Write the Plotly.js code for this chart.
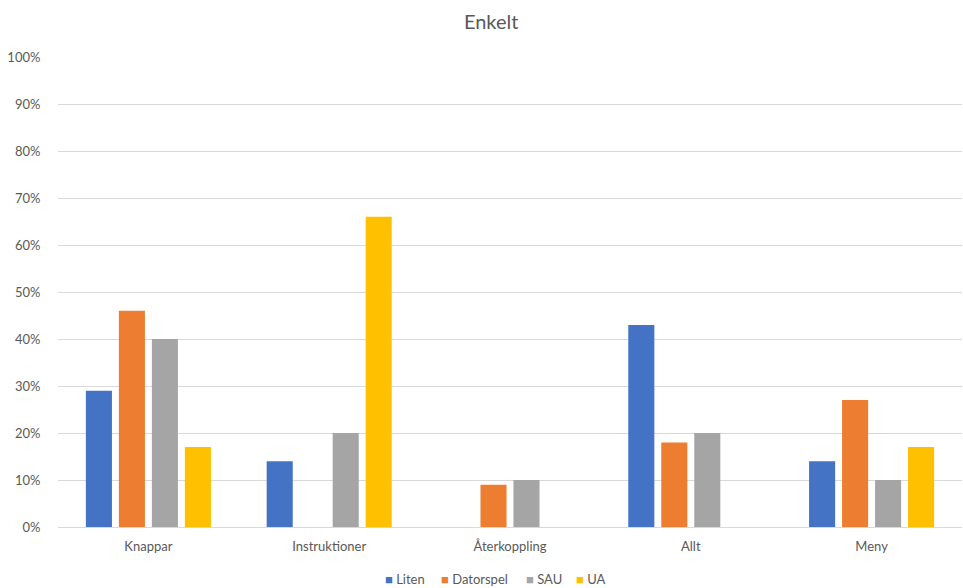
<!DOCTYPE html>
<html>
<head>
<meta charset="utf-8">
<script src="https://cdn.plot.ly/plotly-3.0.1.min.js"></script>
<style>html,body{margin:0;padding:0;background:#fff;}#chart{width:963px;height:588px;}</style>
</head>
<body>
<div id="chart"></div>
<script>
const categories = ["Knappar", "Instruktioner", "Återkoppling", "Allt", "Meny"];
const seriesNames = ["Liten", "Datorspel", "SAU", "UA"];
const liten = [0.29, 0.14, 0, 0.43, 0.14];
const datorspel = [0.46, 0, 0.09, 0.18, 0.27];
const sau = [0.40, 0.20, 0.10, 0.20, 0.10];
const ua = [0.17, 0.66, 0, 0, 0.17];
const colors = ["#4472c4", "#ed7d31", "#a5a5a5", "#ffc000"];
const tickVals = [0, 0.1, 0.2, 0.3, 0.4, 0.5, 0.6, 0.7, 0.8, 0.9, 1.0];

const allSeries = [liten, datorspel, sau, ua];
const traces = allSeries.map((vals, i) => ({
  type: "bar",
  name: seriesNames[i],
  x: categories,
  y: vals,
  marker: {color: colors[i]},
  hoverinfo: "none",
  showlegend: false
}));

const font = "Lato, 'Open Sans', sans-serif";
// custom legend (layout positions in paper coords)
const legendX = [0.361, 0.423, 0.517, 0.572];
const annotations = seriesNames.map((n, i) => ({
  xref: "paper", yref: "paper",
  x: legendX[i], y: -0.111, xanchor: "left", yanchor: "middle",
  showarrow: false, borderpad: 0,
  text: '<span style="color:' + colors[i] + '">■</span> ' + n,
  font: {family: font, size: 13, color: "#595959"}
}));

const layout = {
  width: 963,
  height: 588,
  paper_bgcolor: "#fff",
  plot_bgcolor: "#fff",
  margin: {l: 58, r: 1, t: 57, b: 61},
  title: {text: "Enkelt", font: {family: font, size: 20, color: "#595959"}, x: 0.51, xanchor: "center", y: 0.962, yanchor: "middle"},
  barmode: "group",
  bargap: 0.27,
  bargroupgap: 0.21,
  xaxis: {
    showline: true, linecolor: "#d9d9d9", linewidth: 1,
    tickfont: {family: font, size: 13, color: "#595959"},
    ticks: "outside", ticklen: 7, tickcolor: "rgba(0,0,0,0)", showgrid: false
  },
  yaxis: {
    range: [0, 1], tickvals: tickVals, tickformat: ".0%",
    showgrid: true, gridcolor: "#d9d9d9", gridwidth: 1,
    zeroline: false, showline: false,
    tickfont: {family: font, size: 13, color: "#595959"},
    ticks: "outside", ticklen: 14, tickcolor: "rgba(0,0,0,0)"
  },
  showlegend: false,
  annotations: annotations
};

Plotly.newPlot("chart", traces, layout, {displayModeBar: false, staticPlot: true});
</script>
</body>
</html>
